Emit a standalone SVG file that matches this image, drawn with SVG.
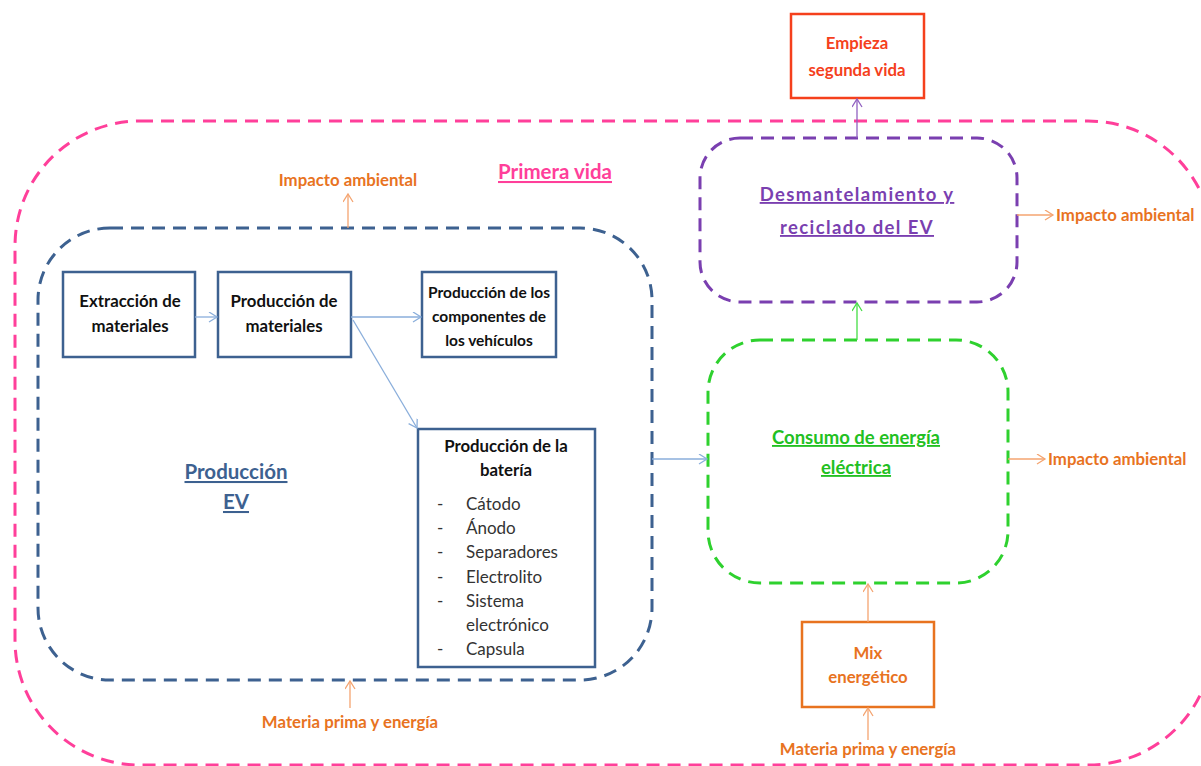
<svg xmlns="http://www.w3.org/2000/svg" width="1201" height="766" viewBox="0 0 1201 766">
<style>
text{font-family:Lato,"Liberation Sans",sans-serif;font-weight:bold;text-anchor:middle}
.box{fill:#fff;stroke:#3d6190;stroke-width:2.5}
.bt{font-size:16.8px;fill:#111}
.bs{font-size:15.5px;fill:#111}
.li{font-size:17px;fill:#333;font-weight:normal;text-anchor:start}
.or{fill:#e8731f;font-size:16.8px}
.dash{fill:none;stroke-width:3;stroke-dasharray:13 8}
.ca{fill:none;stroke-width:1.3}
</style>
<defs>
<marker id="mb" markerWidth="12" markerHeight="12" refX="9" refY="5" orient="auto" markerUnits="userSpaceOnUse"><path d="M1,0 L9,5 L1,10" fill="none" stroke="#8aaedb" stroke-width="1.3"/></marker>
<marker id="mo" markerWidth="12" markerHeight="12" refX="9" refY="5" orient="auto" markerUnits="userSpaceOnUse"><path d="M1,0 L9,5 L1,10" fill="none" stroke="#f4a470" stroke-width="1.3"/></marker>
<marker id="mg" markerWidth="12" markerHeight="12" refX="9" refY="5" orient="auto" markerUnits="userSpaceOnUse"><path d="M1,0 L9,5 L1,10" fill="none" stroke="#44dd44" stroke-width="1.3"/></marker>
<marker id="mp" markerWidth="12" markerHeight="12" refX="9" refY="5" orient="auto" markerUnits="userSpaceOnUse"><path d="M1,0 L9,5 L1,10" fill="none" stroke="#9060c0" stroke-width="1.3"/></marker>
</defs>
<rect width="1201" height="766" fill="#fff"/>

<g id="primera-vida">
<rect x="15" y="121" width="1198" height="644" rx="125" class="dash" stroke="#ff3f9a"/>
<text x="555" y="179" font-size="20.5" fill="#ff3f9a" text-decoration="underline">Primera vida</text>
</g>

<g id="produccion-ev">
<rect x="38" y="228" width="614" height="452" rx="72" class="dash" stroke="#3d6190"/>
<text x="236" y="479" font-size="20.5" fill="#3d6190" text-decoration="underline">Producción</text>
<text x="236" y="509" font-size="20.5" fill="#3d6190" text-decoration="underline">EV</text>
</g>

<g id="extraccion">
<rect x="63" y="272" width="132" height="85" class="box"/>
<text class="bt" x="130" y="307">Extracción de</text>
<text class="bt" x="130" y="332">materiales</text>
</g>

<g id="produccion-materiales">
<rect x="218" y="272" width="133" height="85" class="box"/>
<text class="bt" x="284" y="307">Producción de</text>
<text class="bt" x="284" y="332">materiales</text>
</g>

<g id="componentes">
<rect x="422" y="272" width="134" height="85" class="box"/>
<text class="bs" x="489" y="298">Producción de los</text>
<text class="bs" x="489" y="322">componentes de</text>
<text class="bs" x="489" y="346">los vehículos</text>
</g>

<g id="bateria">
<rect x="418" y="429" width="177" height="238" class="box"/>
<text class="bt" x="506" y="452">Producción de la</text>
<text class="bt" x="506" y="476">batería</text>
<text class="li" x="437" y="510">-</text><text class="li" x="466" y="510">Cátodo</text>
<text class="li" x="437" y="534">-</text><text class="li" x="466" y="534">Ánodo</text>
<text class="li" x="437" y="558">-</text><text class="li" x="466" y="558">Separadores</text>
<text class="li" x="437" y="583">-</text><text class="li" x="466" y="583">Electrolito</text>
<text class="li" x="437" y="607">-</text><text class="li" x="466" y="607">Sistema</text>
<text class="li" x="466" y="631">electrónico</text>
<text class="li" x="437" y="655">-</text><text class="li" x="466" y="655">Capsula</text>
</g>

<g id="consumo">
<rect x="708" y="340" width="300" height="243" rx="52" class="dash" stroke="#2ed12e"/>
<text x="856" y="444" font-size="18.5" fill="#22c022" text-decoration="underline">Consumo de energía</text>
<text x="856" y="474" font-size="18.5" fill="#22c022" text-decoration="underline">eléctrica</text>
</g>

<g id="desmantelamiento">
<rect x="700" y="138" width="317" height="164" rx="40" class="dash" stroke="#7a3fb0"/>
<text x="857" y="201" font-size="18.5" letter-spacing="1.4" fill="#7a3fb0" text-decoration="underline">Desmantelamiento y</text>
<text x="857" y="234" font-size="18.5" letter-spacing="1.4" fill="#7a3fb0" text-decoration="underline">reciclado del EV</text>
</g>

<g id="segunda-vida">
<rect x="791" y="14" width="133" height="84" fill="#fff" stroke="#f5401c" stroke-width="2.5"/>
<text x="857" y="49" font-size="16.8" fill="#f5401c">Empieza</text>
<text x="857" y="76" font-size="16.8" fill="#f5401c">segunda vida</text>
</g>

<g id="mix">
<rect x="802" y="622" width="132" height="85" fill="#fff" stroke="#e8731f" stroke-width="2.5"/>
<text x="868" y="659" font-size="16.8" fill="#e8731f">Mix</text>
<text x="868" y="683" font-size="16.8" fill="#e8731f">energético</text>
</g>

<g id="labels">
<text class="or" x="348" y="186">Impacto ambiental</text>
<text class="or" x="350" y="728">Materia prima y energía</text>
<text class="or" x="868" y="755">Materia prima y energía</text>
<text class="or" x="1048" y="465" style="text-anchor:start">Impacto ambiental</text>
<text class="or" x="1056" y="221" style="text-anchor:start">Impacto ambiental</text>
</g>

<g id="connectors">
<line class="ca" x1="195" y1="317" x2="217" y2="317" stroke="#8aaedb" marker-end="url(#mb)"/>
<line class="ca" x1="351" y1="317" x2="421" y2="317" stroke="#8aaedb" marker-end="url(#mb)"/>
<line class="ca" x1="353" y1="320" x2="417" y2="428" stroke="#8aaedb" marker-end="url(#mb)"/>
<line class="ca" x1="652" y1="459" x2="707" y2="459" stroke="#8aaedb" marker-end="url(#mb)"/>
<line class="ca" x1="348" y1="228" x2="348" y2="194" stroke="#f4a470" marker-end="url(#mo)"/>
<line class="ca" x1="350" y1="708" x2="350" y2="681" stroke="#f4a470" marker-end="url(#mo)"/>
<line class="ca" x1="868" y1="740" x2="868" y2="708" stroke="#f4a470" marker-end="url(#mo)"/>
<line class="ca" x1="868" y1="622" x2="868" y2="584" stroke="#f4a470" marker-end="url(#mo)"/>
<line class="ca" x1="1008" y1="459" x2="1045" y2="459" stroke="#f4a470" marker-end="url(#mo)"/>
<line class="ca" x1="1017" y1="215" x2="1053" y2="215" stroke="#f4a470" marker-end="url(#mo)"/>
<line class="ca" x1="857" y1="340" x2="857" y2="303" stroke="#44dd44" marker-end="url(#mg)"/>
<line class="ca" x1="857" y1="138" x2="857" y2="99" stroke="#9060c0" marker-end="url(#mp)"/>
</g>
</svg>
